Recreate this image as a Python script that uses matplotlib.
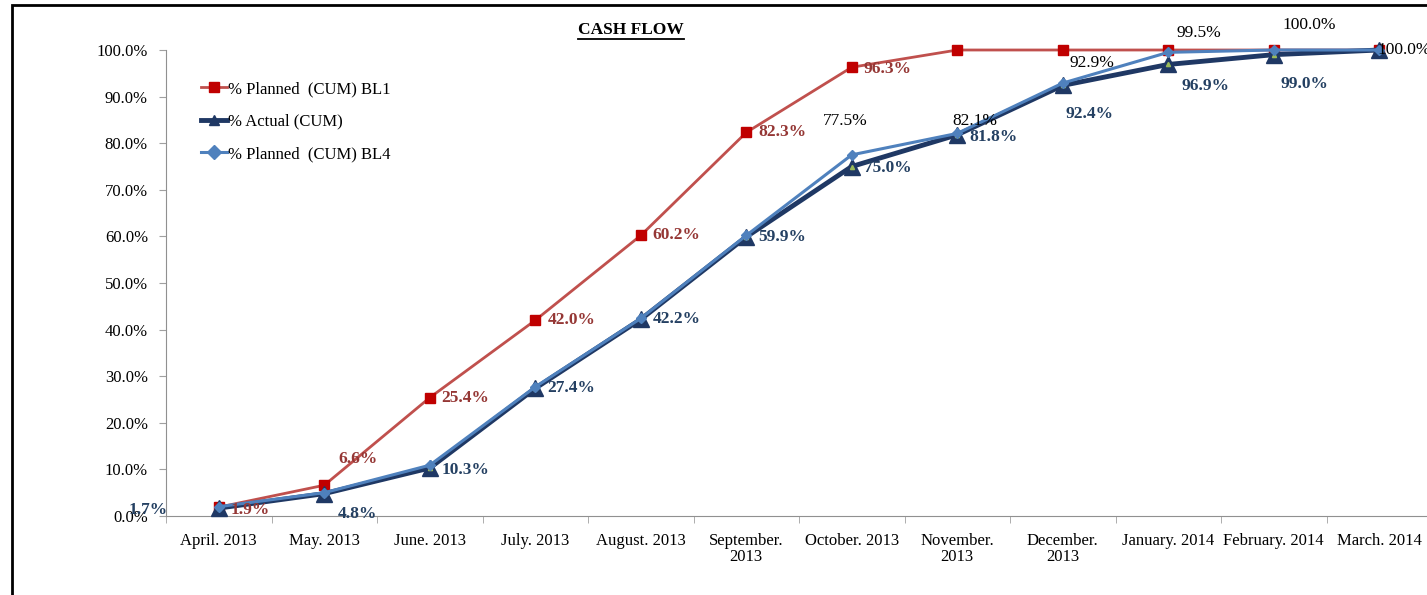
import matplotlib
matplotlib.use("Agg")
import matplotlib.pyplot as plt
from matplotlib.lines import Line2D
from matplotlib.patches import Rectangle
import numpy as np

months = ["April. 2013", "May. 2013", "June. 2013", "July. 2013", "August. 2013",
          "September.\n2013", "October. 2013", "November.\n2013", "December.\n2013",
          "January. 2014", "February. 2014", "March. 2014"]
planned_bl1 = [1.9, 6.6, 25.4, 42.0, 60.2, 82.3, 96.3, 100.0, 100.0, 100.0, 100.0, 100.0]
actual = [1.7, 4.8, 10.3, 27.4, 42.2, 59.9, 75.0, 81.8, 92.4, 96.9, 99.0, 100.0]
planned_bl4 = [2.0, 5.0, 10.9, 27.7, 42.4, 60.2, 77.5, 82.1, 92.9, 99.5, 100.0, 100.0]

# label offsets in pixels (dx, dy)
bl1_label_idx = [0, 1, 2, 3, 4, 5, 6]
bl1_offsets = [(12, -3), (14, 26), (12, 0), (12, 0), (12, 0), (12, 0), (12, -2)]
act_label_idx = list(range(11))
act_offsets = [(-90, -2), (14, -20), (12, -2), (12, 0), (12, 0), (12, 0), (12, -2), (12, -2),
               (3, -29), (13, -22), (7, -29)]
bl4_label_idx = [6, 7, 8, 9, 10, 11]
bl4_offsets = [(-29, 34), (-5, 12), (7, 20), (8, 19), (9, 25), (-2, 0)]

plt.rcParams['font.family'] = ['Liberation Serif', 'DejaVu Serif']

fig = plt.figure(figsize=(14.27, 5.95), dpi=100)
ax = fig.add_axes([166/1427, 79/595, 1266/1427, 466/595])

x = np.arange(len(months))
RED_LINE = "#C0504D"
RED_MK = "#C00000"
NAVY = "#1F3864"
BLUE = "#4F81BD"
RED_TXT = "#953735"
NAVY_TXT = "#244062"

ax.plot(x, planned_bl1, color=RED_LINE, lw=2, marker="s", ms=7,
        mfc=RED_MK, mec=RED_MK, zorder=3, label="% Planned  (CUM) BL1")
ax.plot(x, actual, color=NAVY, lw=3.5, marker="^", ms=11.5,
        mfc=NAVY, mec=NAVY, zorder=4, label="% Actual (CUM)")
ax.plot(x, actual, ls="none", marker="^", ms=3, mfc="#9BBB59", mec="#9BBB59", zorder=4.5)
ax.plot(x, planned_bl4, color=BLUE, lw=2.2, marker="D", ms=5.5,
        mfc=BLUE, mec=BLUE, zorder=5, label="% Planned  (CUM) BL4")

fs = 12.5
for i, (dx, dy) in zip(bl1_label_idx, bl1_offsets):
    ax.annotate(f"{planned_bl1[i]:.1f}%", (x[i], planned_bl1[i]), xytext=(dx, dy),
                textcoords="offset pixels", ha="left", va="center", fontsize=fs,
                fontweight="bold", color=RED_TXT, zorder=6)
for i, (dx, dy) in zip(act_label_idx, act_offsets):
    ax.annotate(f"{actual[i]:.1f}%", (x[i], actual[i]), xytext=(dx, dy),
                textcoords="offset pixels", ha="left", va="center", fontsize=fs,
                fontweight="bold", color=NAVY_TXT, zorder=6)
for i, (dx, dy) in zip(bl4_label_idx, bl4_offsets):
    ax.annotate(f"{planned_bl4[i]:.1f}%", (x[i], planned_bl4[i]), xytext=(dx, dy),
                textcoords="offset pixels", ha="left", va="center", fontsize=fs,
                color="black", zorder=6)

ax.set_xlim(-0.5, len(months) - 0.5)
ax.set_ylim(0, 100)
ax.set_yticks(np.arange(0, 101, 10))
ax.set_yticklabels([f"{v:.1f}%" for v in np.arange(0, 101, 10)], fontsize=12)
ax.set_xticks(x)
ax.set_xticklabels(months, fontsize=12, linespacing=1.0)
ax.set_xticks(np.arange(-0.5, len(months), 1), minor=True)
ax.tick_params(axis="x", which="major", length=0, pad=12)
ax.tick_params(axis="x", which="minor", length=5, color="#A0A0A0", direction="out")
ax.tick_params(axis="y", length=5, color="#A0A0A0", pad=8)
for s in ["top", "right"]:
    ax.spines[s].set_visible(False)
ax.spines["left"].set_color("#909090")
ax.spines["bottom"].set_color("#909090")
for ln in ax.lines:
    ln.set_clip_on(False)

leg = ax.legend(loc="upper left", bbox_to_anchor=(0.022, 0.948), frameon=False,
                fontsize=12, handlelength=1.6, handletextpad=0.05, labelspacing=1.0,
                borderaxespad=0)
for h in leg.legend_handles:
    h.set_markersize(7)

t = fig.text(631/1427, 1 - 30/595, "CASH FLOW", ha="center", va="center",
             fontsize=12.5, fontweight="bold", color="black")
fig.canvas.draw()
bb = t.get_window_extent()
fig.add_artist(Line2D([bb.x0/1427, bb.x1/1427], [(bb.y0 - 1)/595, (bb.y0 - 1)/595],
                      color="black", lw=1.3))

fig.add_artist(Rectangle((12/1427, -0.1), 1.2, (595 - 5)/595 + 0.1, fill=False,
                         ec="black", lw=2, transform=fig.transFigure))

fig.savefig("out.png", dpi=100)
